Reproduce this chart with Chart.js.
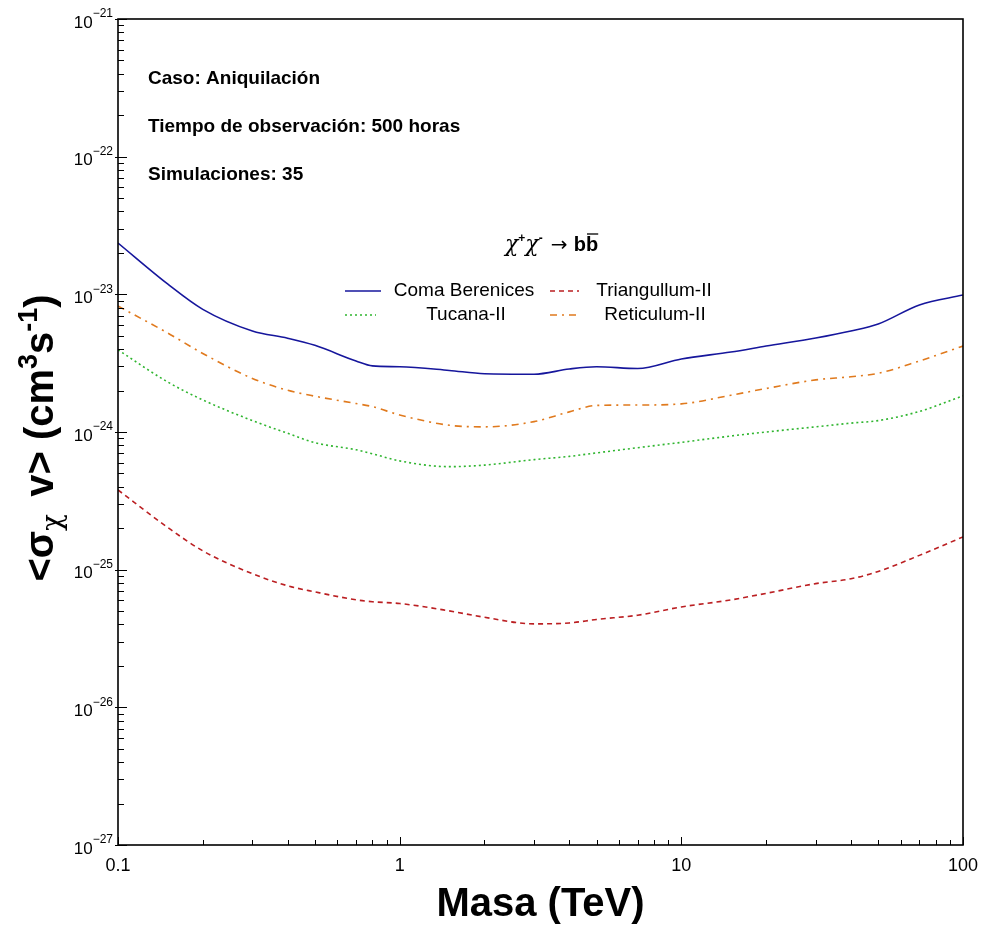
<!DOCTYPE html>
<html>
<head>
<meta charset="utf-8">
<script src="https://cdn.jsdelivr.net/npm/chart.js@4/dist/chart.umd.min.js"></script>
<style>
  html, body { margin: 0; padding: 0; background: #ffffff; }
  #wrap { width: 983px; height: 931px; position: relative; }
</style>
</head>
<body>
<div id="wrap"><canvas id="c"></canvas></div>
<script>
// Dark-matter mass grid (TeV)
const masses = [0.1, 0.15, 0.2, 0.3, 0.4, 0.5, 0.7, 0.8, 1, 1.5, 2, 3, 4, 5, 7, 10, 15, 20, 30, 40, 50, 70, 100];

// Upper limits on <sigma v> (cm^3 s^-1), one array per dwarf galaxy
const comaBerenices = [2.36e-23, 1.19e-23, 7.78e-24, 5.42e-24, 4.80e-24, 4.26e-24, 3.28e-24, 3.02e-24, 2.98e-24, 2.80e-24, 2.65e-24, 2.63e-24, 2.87e-24, 2.98e-24, 2.89e-24, 3.39e-24, 3.81e-24, 4.21e-24, 4.82e-24, 5.42e-24, 6.09e-24, 8.38e-24, 9.89e-24];
const triangullum = [3.79e-25, 2.03e-25, 1.37e-25, 9.35e-26, 7.64e-26, 6.90e-26, 6.04e-26, 5.85e-26, 5.68e-26, 5.02e-26, 4.51e-26, 4.04e-26, 4.10e-26, 4.35e-26, 4.67e-26, 5.36e-26, 6.03e-26, 6.73e-26, 7.92e-26, 8.59e-26, 9.71e-26, 1.27e-25, 1.73e-25];
const tucana = [3.95e-24, 2.31e-24, 1.71e-24, 1.21e-24, 9.79e-25, 8.36e-25, 7.43e-25, 6.95e-25, 6.17e-25, 5.60e-25, 5.75e-25, 6.30e-25, 6.65e-25, 7.05e-25, 7.69e-25, 8.41e-25, 9.35e-25, 1.00e-24, 1.09e-24, 1.16e-24, 1.21e-24, 1.41e-24, 1.83e-24];
const reticulum = [8.22e-24, 5.24e-24, 3.72e-24, 2.45e-24, 2.01e-24, 1.82e-24, 1.61e-24, 1.53e-24, 1.33e-24, 1.12e-24, 1.09e-24, 1.19e-24, 1.40e-24, 1.56e-24, 1.57e-24, 1.60e-24, 1.85e-24, 2.07e-24, 2.39e-24, 2.52e-24, 2.67e-24, 3.28e-24, 4.21e-24];

// Axis tick labels
const xTickValues = [0.1, 1, 10, 100];
const xTickLabels = ['0.1', '1', '10', '100'];
const yTickExponents = [-21, -22, -23, -24, -25, -26, -27];

// Info text block
const infoLines = ['Caso: Aniquilación', 'Tiempo de observación: 500 horas', 'Simulaciones: 35'];

const pts = arr => masses.map((m, i) => ({ x: m, y: arr[i] }));

const FONT = '"Liberation Sans", Arial, Helvetica, sans-serif';

const series = [
  { label: 'Coma Berenices', data: pts(comaBerenices), borderColor: '#16169c', borderDash: [] },
  { label: 'Triangullum-II', data: pts(triangullum), borderColor: '#bb1f22', borderDash: [5, 4] },
  { label: 'Tucana-II', data: pts(tucana), borderColor: '#2fb52f', borderDash: [2, 3] },
  { label: 'Reticulum-II', data: pts(reticulum), borderColor: '#e07a1e', borderDash: [7, 5, 2, 5] }
];

// Draws a run of text segments with their own font / baseline shift
function drawRich(ctx, segs, x, y, align) {
  let total = 0;
  segs.forEach(s => { ctx.font = s.font; s.w = ctx.measureText(s.t).width + (s.after || 0); total += s.w; });
  let cx = align === 'center' ? x - total / 2 : (align === 'right' ? x - total : x);
  segs.forEach(s => {
    ctx.font = s.font;
    ctx.fillText(s.t, cx, y + (s.dy || 0));
    if (s.overline) {
      const w = ctx.measureText(s.t).width;
      ctx.save();
      ctx.lineWidth = 1.3;
      ctx.strokeStyle = '#000';
      ctx.beginPath();
      ctx.moveTo(cx + 1, y + s.overline);
      ctx.lineTo(cx + w, y + s.overline);
      ctx.stroke();
      ctx.restore();
    }
    cx += s.w;
  });
  return total;
}

const decor = {
  id: 'decor',
  afterDatasetsDraw(chart) {
    const { ctx, chartArea: a, scales } = chart;
    const xs = scales.x, ys = scales.y;
    ctx.save();

    // frame
    ctx.strokeStyle = '#000';
    ctx.lineWidth = 1.6;
    ctx.strokeRect(a.left, a.top, a.right - a.left, a.bottom - a.top);

    // x ticks (inward)
    ctx.lineWidth = 1;
    for (let d = -1; d <= 2; d++) {
      for (let k = 1; k <= 9; k++) {
        const v = k * Math.pow(10, d);
        if (v < 0.1 || v > 100) continue;
        const px = Math.round(xs.getPixelForValue(v)) + 0.5;
        const len = k === 1 ? 8 : 5;
        ctx.beginPath();
        ctx.moveTo(px, a.bottom);
        ctx.lineTo(px, a.bottom - len);
        ctx.stroke();
      }
    }
    // y ticks (inward)
    for (let e = -27; e <= -21; e++) {
      for (let k = 1; k <= 9; k++) {
        const v = k * Math.pow(10, e);
        if (v > 1.0001e-21) continue;
        const py = Math.round(ys.getPixelForValue(v)) + 0.5;
        ctx.beginPath();
        if (k === 1) { ctx.moveTo(a.left - 3, py); ctx.lineTo(a.left + 9, py); }
        else { ctx.moveTo(a.left, py); ctx.lineTo(a.left + 6, py); }
        ctx.stroke();
      }
    }

    // x tick labels
    ctx.fillStyle = '#000';
    ctx.textBaseline = 'middle';
    ctx.textAlign = 'left';
    xTickValues.forEach((v, i) => {
      const px = xs.getPixelForValue(v);
      drawRich(ctx, [{ t: xTickLabels[i], font: '18px ' + FONT }], px, 866, 'center');
    });

    // y tick labels: 10^e
    yTickExponents.forEach(e => {
      const py = ys.getPixelForValue(Math.pow(10, e));
      drawRich(ctx, [
        { t: '10', font: '17px ' + FONT, dy: 4 },
        { t: '\u2212' + Math.abs(e), font: '12px ' + FONT, dy: -5 }
      ], a.left - 5, py, 'right');
    });

    // axis titles
    drawRich(ctx, [{ t: 'Masa (TeV)', font: 'bold 40px ' + FONT }], (a.left + a.right) / 2, 905, 'center');

    ctx.save();
    ctx.translate(42, 438);
    ctx.rotate(-Math.PI / 2);
    drawRich(ctx, [
      { t: '<\u03c3', font: 'bold 40px ' + FONT },
      { t: '\u03c7', font: '28px "DejaVu Serif", serif', dy: 12, after: 6 },
      { t: ' v> (cm', font: 'bold 40px ' + FONT },
      { t: '3', font: 'bold 27px ' + FONT, dy: -12 },
      { t: 's', font: 'bold 40px ' + FONT },
      { t: '-1', font: 'bold 27px ' + FONT, dy: -12 },
      { t: ')', font: 'bold 40px ' + FONT }
    ], 0, 0, 'center');
    ctx.restore();

    // info text
    infoLines.forEach((s, i) => {
      drawRich(ctx, [{ t: s, font: 'bold 19px ' + FONT }], 148, 79 + i * 48, 'left');
    });

    // legend header: chi+ chi- -> b bbar
    ctx.textBaseline = 'alphabetic';
    drawRich(ctx, [
      { t: '\u03c7', font: 'italic 22px "DejaVu Serif", serif' },
      { t: '+', font: 'bold 12px ' + FONT, dy: -9 },
      { t: '\u03c7', font: 'italic 22px "DejaVu Serif", serif' },
      { t: '-', font: 'bold 12px ' + FONT, dy: -9, after: 8 },
      { t: '\u2192 ', font: '20px "DejaVu Sans", sans-serif' },
      { t: 'b', font: 'bold 20px ' + FONT },
      { t: 'b', font: 'bold 20px ' + FONT, overline: -17 }
    ], 505, 251, 'left');

    // legend entries
    ctx.textBaseline = 'middle';
    const cells = [
      { ds: 0, x0: 345, x1: 381, tx: 464, ty: 291 },
      { ds: 1, x0: 550, x1: 579, tx: 654, ty: 291 },
      { ds: 2, x0: 345, x1: 376, tx: 466, ty: 315 },
      { ds: 3, x0: 550, x1: 579, tx: 655, ty: 315 }
    ];
    cells.forEach(c => {
      const ds = chart.data.datasets[c.ds];
      ctx.save();
      ctx.strokeStyle = ds.borderColor;
      ctx.lineWidth = 1.5;
      ctx.setLineDash(ds.borderDash);
      ctx.beginPath();
      ctx.moveTo(c.x0, c.ty);
      ctx.lineTo(c.x1, c.ty);
      ctx.stroke();
      ctx.restore();
      drawRich(ctx, [{ t: ds.label, font: '19px ' + FONT }], c.tx, c.ty, 'center');
    });

    ctx.restore();
  }
};

new Chart(document.getElementById('c'), {
  type: 'line',
  data: {
    datasets: series.map(s => ({
      label: s.label,
      data: s.data,
      borderColor: s.borderColor,
      borderDash: s.borderDash,
      borderWidth: 1.6,
      pointRadius: 0,
      fill: false,
      cubicInterpolationMode: 'monotone'
    }))
  },
  options: {
    responsive: true,
    maintainAspectRatio: false,
    animation: false,
    layout: { padding: { top: 19, right: 20, left: 0, bottom: 0 } },
    plugins: { legend: { display: false }, tooltip: { enabled: false } },
    scales: {
      x: {
        type: 'logarithmic',
        min: 0.1, max: 100,
        grid: { display: false, drawTicks: false },
        border: { display: false },
        ticks: { display: false },
        afterFit: s => { s.height = 86; }
      },
      y: {
        type: 'logarithmic',
        min: 1e-27, max: 1e-21,
        grid: { display: false, drawTicks: false },
        border: { display: false },
        ticks: { display: false },
        afterFit: s => { s.width = 118; }
      }
    }
  },
  plugins: [decor]
});
</script>
</body>
</html>
